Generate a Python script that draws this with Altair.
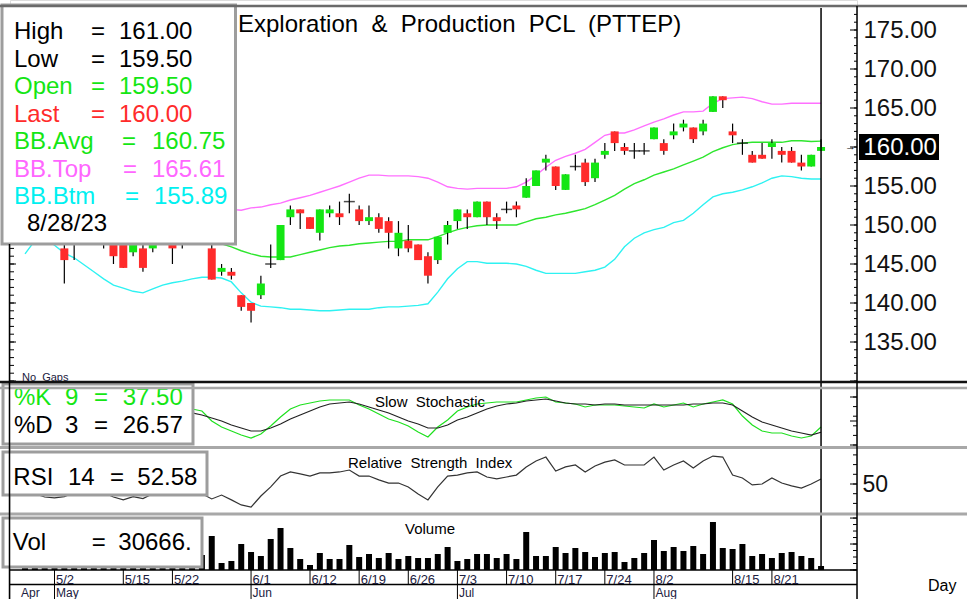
import altair as alt
import pandas as pd

# ---------------- data ----------------
dates = ["4/26","4/27","4/28","5/2","5/3","5/8","5/9","5/10","5/11","5/12","5/15","5/16","5/17","5/18","5/19",
         "5/22","5/23","5/24","5/25","5/26","5/29","5/30","5/31","6/1","6/2","6/6","6/7","6/8","6/9",
         "6/12","6/13","6/14","6/15","6/16","6/19","6/20","6/21","6/22","6/23","6/26","6/27","6/28","6/29","6/30",
         "7/3","7/4","7/5","7/6","7/7","7/10","7/11","7/12","7/13","7/14","7/17","7/18","7/19","7/20","7/21",
         "7/24","7/25","7/26","7/27","7/31","8/2","8/3","8/4","8/7","8/8","8/9","8/10","8/11",
         "8/15","8/16","8/17","8/18","8/21","8/22","8/23","8/24","8/25","8/28"]

opens = [149.5,150,150.5,149.5,147,147.5,149,149.5,149,148.5,148,146.5,147,147,149,148.5,147.5,148.5,149,147,
         144,144,141,140,141,145,145.5,151,152,151,149,151.5,151.5,153,152,150.5,151,150.5,147,148,
         147.5,146,145.5,149,150.5,151.5,151,153,151,152,152.5,153.5,155,158,157.5,154.5,157.5,158,156,159,
         162,160,159.5,159.5,161,160.5,161.5,162.5,162.5,162,164.5,166.5,162,160.5,159,159,160,159.5,159.5,158,
         157.5,159.5]
highs = [150.5,151,151,150,147.5,149.5,150,150.5,149.5,149,148.5,148.5,147.5,149,149.5,149,149,149.5,149.5,147.5,
         145,144.5,141,140,143.5,147.5,150,152.5,152,151,152,152.5,153,154,152.5,152.5,151.5,151,150.5,150,
         147.5,146.5,148.5,150.5,152,152,153,153,151.5,153,153,156,157,159,157.5,156.5,159,158.5,158.5,160.5,
         162,160.5,160.5,160.5,162.5,161,163,163.5,162.5,163.5,166.5,166.5,163,161,159.5,160.5,161,160,160,159,
         159,161]
lows = [149,149.5,149,148,142.5,145.5,148,148.5,147,145,144.5,146,144,146.5,147.5,145,147,148,148,143,
        143.5,143,139,137.5,140.5,144.5,145.5,150,149.5,149.5,148,151,150,151.5,150,150,149,147,146,146.5,
        145.5,142.5,145,147.5,149.5,149.5,151,150,149.5,151.5,151,153.5,155,157,154.5,154.5,157,155,155.5,158.5,
        159.5,159,158.5,159,161,159,161,162,160.5,161.5,164.5,165,160.5,159,158,158.5,158.5,158,158,157,
        157.5,159.5]
closes = [150,150.5,149.5,148.5,145.5,149,149.5,149,148.5,146,144.5,148,144.5,148.5,148.5,147,148.5,149,148.5,143,
          144.5,143.5,139.5,139,142.5,145,150,152,151.5,149.5,152,152,151,153,150.5,151,149.5,149,149,147,
          145.5,143.5,148.5,150,152,151,153,151,150.5,152,152,155,157,158.5,155,156.5,157.5,155.5,158,159.5,
          160.5,159.5,159.5,159.5,162.5,159.5,162,163,161,163,166.5,166,161.5,160.5,158,158.5,160.5,159,158,157.5,
          159,160]

bb_top = [153.8,153.5,153.4,153.6,154.0,154.5,155.0,155.5,156.0,156.3,156.5,156.6,156.5,156.2,155.8,155.3,154.8,
          154.2,153.6,152.9,152.3,152.0,151.9,152.2,152.3,152.6,152.8,153.2,153.5,153.8,154.2,154.6,155.0,155.5,
          156.0,156.4,156.4,156.3,156.3,156.3,156.2,156.0,155.5,154.9,154.7,154.6,154.7,154.7,154.7,154.7,154.9,
          155.5,156.4,157.4,158.3,158.8,159.2,159.7,160.6,161.5,161.8,161.8,162.2,162.7,163.2,163.6,164.1,164.5,
          164.5,164.6,165.6,166.2,166.3,166.4,166.2,165.8,165.5,165.5,165.6,165.6,165.6,165.61]
bb_avg = [150.0,150.0,149.9,149.8,149.7,149.6,149.5,149.4,149.3,149.2,149.1,149.0,148.9,148.8,148.7,148.6,148.5,
          148.4,148.2,147.95,147.6,147.2,146.7,146.3,146.0,145.9,145.9,145.9,146.2,146.5,146.8,147.1,147.3,147.4,
          147.6,147.7,147.8,147.9,147.9,148.1,148.1,148.1,148.5,149.0,149.4,149.7,149.9,150.0,150.0,150.0,150.0,
          150.4,150.8,151.0,151.3,151.5,151.8,152.1,152.6,153.2,153.8,154.6,155.3,155.8,156.4,156.8,157.2,157.7,
          158.2,158.7,159.4,159.9,160.3,160.5,160.6,160.6,160.6,160.6,160.8,160.8,160.7,160.75]
bb_btm = [146.3,148.0,148.3,147.4,146.4,145.8,144.9,144.0,143.1,142.3,141.9,141.5,141.3,141.8,142.3,142.6,142.8,
          143.1,143.3,143.3,143.2,142.7,141.3,140.1,139.6,139.5,139.4,139.2,139.2,139.1,139.0,139.0,139.1,139.2,
          139.2,139.2,139.4,139.5,139.5,139.6,139.7,139.9,141.4,143.1,144.4,145.3,145.3,145.1,145.1,145.1,145.0,
          144.7,144.2,143.8,143.8,143.8,143.8,144.0,144.2,144.6,145.6,147.2,148.3,149.0,149.4,149.7,150.3,150.6,
          151.5,152.6,153.6,154.0,154.2,154.5,154.9,155.4,156.0,156.3,156.2,156.0,155.9,155.89]

stoch_k = [60,55,48,40,30,35,45,52,50,42,35,40,38,48,58,62,70,75,70.8,50,37.5,29.2,20.8,14.6,22.9,39.6,58.3,75,
           83.3,87.5,91.7,93.8,93.8,93.8,83.3,75,64.6,54.2,47.9,39.6,27.1,16.7,37.5,52.1,70.8,79.2,85.4,87.5,
           89.6,89.6,89.6,93.8,97.9,100,89.6,87.5,85.4,79.2,83.3,83.3,83.3,81.3,79.2,77.1,85.4,79.2,83.3,87.5,
           79.2,85.4,89.6,93.8,85.4,60.4,41.7,29.2,25,25,18.8,14.6,18.8,37.5]
stoch_d = [55,56,54,48,40,35,36,42,48,48,43,39,38,42,48,56,63,66.7,62.5,56.3,50,41.7,35.4,29.2,29.2,35.4,43.8,
           54.2,62.5,70.8,79.2,85.4,87.5,89.6,85.4,79.2,72.9,66.7,58.3,50,43.8,35.4,35.4,41.7,52.1,58.3,66.7,75,
           81.3,85.4,87.5,91.7,93.8,95.8,91.7,87.5,85.4,85.4,83.3,85.4,85.4,83.3,83.3,83.3,83.3,83.3,83.3,83.3,
           85.4,85.4,87.5,87.5,83.3,70.8,58.3,47.9,41.7,35.4,29.2,25,20.8,26.57]

rsi = [47,45,43.3,42.8,43.5,45.5,47,48,45.5,43.3,41.8,43.5,42.5,45,47,46,47,46,45,42.3,44.3,41.8,39.2,38.1,
       43.8,48.5,54.1,56.2,55.2,54.1,55.7,55.7,56.2,57.2,54.1,54.1,52.1,50.5,50.5,48.5,44.8,41.8,48.5,54.1,
       54.6,55.7,56.2,53.6,52.6,53.6,54.6,58.8,61.9,63.9,56.7,58.8,59.8,56.2,59.3,61.3,62.4,59.8,59.8,59.8,
       63.9,57.2,59.8,61.9,58.2,61.9,64.4,63.9,54.6,53.1,49.5,50,53.1,50.5,49,47.9,50,52.58]

volume = [107800,138600,92400,154000,192500,123200,92400,77000,107800,138600,169400,115500,130900,100100,
          84700,146300,92400,69300,115500,261800,53900,69300,200200,138600,107800,238700,323400,169400,84700,
          38500,130900,84700,84700,192500,100100,123200,92400,130900,84700,107800,92400,92400,123200,177100,
          69300,84700,123200,123200,92400,123200,84700,292600,107800,107800,177100,130900,169400,138600,100100,
          130900,138600,61600,92400,130900,231000,146300,177100,146300,184800,123200,369600,169400,161700,
          200200,107800,123200,92400,130900,138600,107800,92400,30666]

date_ticks = ["5/2","5/15","5/22","6/1","6/12","6/19","6/26","7/3","7/10","7/17","7/24","8/2","8/15","8/21"]
month_starts = ["5/2","6/1","7/3","8/2"]
month_names = ["May","Jun","Jul","Aug"]
price_labels = [135,140,145,150,155,160,165,170,175]

# ---------------- layout helpers ----------------
PADL, PADR = 10, 110
W, H = 847, 599
FONT = "Liberation Sans"
GREEN = "#14e614"
RED = "#ff2b2b"
MAGENTA = "#ff70ff"
CYAN = "#2ef2f2"
LGREEN = "#2ee62e"
SP = " \u00a0"   # wide word gap
ONE = pd.DataFrame({"k": [0]})

xsc = alt.Scale(domain=[-1.02, 84.15], nice=False, zero=False)
X = alt.X("i:Q", scale=xsc, axis=None)
psc = alt.Scale(domain=[135, 175], range=[342, 30], nice=False, zero=False)
ssc = alt.Scale(domain=[0, 100], range=[445, 397], nice=False, zero=False)
rsc = alt.Scale(domain=[40, 60], range=[503.4, 464.6], nice=False, zero=False)
vsc = alt.Scale(domain=[0, 385000], range=[570, 520], nice=False, zero=True)


def txt(s, x, y, size=24, color="#000000", align="left", baseline="alphabetic"):
    return alt.Chart(ONE).mark_text(text=s, fontSize=size, font=FONT, color=color, align=align,
                                    baseline=baseline).encode(x=alt.value(x - PADL), y=alt.value(y))


def box(x1, y1, x2, y2, fill="white", stroke="#9d9d9d", sw=3):
    return alt.Chart(ONE).mark_rect(fill=fill, stroke=stroke, strokeWidth=sw).encode(
        x=alt.value(x1 - PADL), x2=alt.value(x2 - PADL), y=alt.value(y1), y2=alt.value(y2))


def hline(y, x1, x2, color="black", w=1):
    return alt.Chart(ONE).mark_rule(color=color, strokeWidth=w).encode(
        x=alt.value(x1 - PADL), x2=alt.value(x2 - PADL), y=alt.value(y))


def vline(x, y1, y2, color="black", w=1):
    return alt.Chart(ONE).mark_rule(color=color, strokeWidth=w).encode(
        x=alt.value(x - PADL), y=alt.value(y1), y2=alt.value(y2))


def ticks(values, scale, x1, x2, w=1):
    return alt.Chart(pd.DataFrame({"t": values})).mark_rule(color="black", strokeWidth=w).encode(
        x=alt.value(x1 - PADL), x2=alt.value(x2 - PADL), y=alt.Y("t:Q", scale=scale, axis=None))


# ---------------- tables ----------------
n = len(dates)
idx = list(range(n))
price = pd.DataFrame({"i": idx, "o": opens, "h": highs, "l": lows, "c": closes})
price["dir"] = ["up" if c > o else ("down" if c < o else "doji") for o, c in zip(opens, closes)]
bodies = price[price["dir"] != "doji"]
dojis = price[price["dir"] == "doji"]
bands = pd.DataFrame({"i": idx, "top": bb_top, "avg": bb_avg, "btm": bb_btm})
stoch = pd.DataFrame({"i": idx, "k": stoch_k, "d": stoch_d})
rsidf = pd.DataFrame({"i": idx, "r": rsi})
vol = pd.DataFrame({"i": idx, "v": volume})
dticks = pd.DataFrame({"i": [dates.index(d) for d in date_ticks], "t": date_ticks})
mticks = pd.DataFrame({"i": [dates.index(d) for d in month_starts], "t": month_names})
last = pd.DataFrame({"i": [n - 1]})

price_axis = alt.Axis(orient="right", values=price_labels, format=".2f", labelFont=FONT, labelFontSize=24,
                      labelColor={"condition": {"test": "datum.value == 160", "value": "white"}, "value": "#111111"},
                      ticks=False, domain=False, grid=False, labelPadding=6, title=None, zindex=1)
rsi_axis = alt.Axis(orient="right", values=[50], labelFont=FONT, labelFontSize=23, labelColor="#111111",
                    ticks=False, domain=False, grid=False, labelPadding=5, title=None, zindex=1)

layers = []
# title (partly hidden by legend box, as in the original)
layers.append(txt(SP.join(["Exploration", "&", "Production", "PCL", "(PTTEP)"]), 238, 32, size=24))

# Bollinger bands
for col, colr in [("top", MAGENTA), ("avg", LGREEN), ("btm", CYAN)]:
    layers.append(alt.Chart(bands).mark_line(color=colr, strokeWidth=1.4).encode(
        x=X, y=alt.Y(f"{col}:Q", scale=psc, axis=None)))

# candles
layers.append(alt.Chart(price).mark_rule(color="black", strokeWidth=1.2).encode(
    x=X, y=alt.Y("l:Q", scale=psc, axis=None), y2="h:Q"))
layers.append(alt.Chart(bodies).mark_bar(size=8).encode(
    x=X, y=alt.Y("o:Q", scale=psc, axis=price_axis), y2="c:Q",
    color=alt.Color("dir:N", scale=alt.Scale(domain=["up", "down"], range=[GREEN, RED]), legend=None)))
layers.append(alt.Chart(dojis).mark_tick(orient="horizontal", size=11, thickness=1.5, color="black").encode(
    x=X, y=alt.Y("c:Q", scale=psc, axis=None)))

# stochastic
layers.append(alt.Chart(stoch).mark_line(color="#1ee01e", strokeWidth=1.2).encode(
    x=X, y=alt.Y("k:Q", scale=ssc, axis=None)))
layers.append(alt.Chart(stoch).mark_line(color="#222222", strokeWidth=1.2).encode(
    x=X, y=alt.Y("d:Q", scale=ssc, axis=None)))

# RSI
layers.append(alt.Chart(rsidf).mark_line(color="#333333", strokeWidth=1.2).encode(
    x=X, y=alt.Y("r:Q", scale=rsc, axis=rsi_axis)))

# volume
layers.append(alt.Chart(vol).mark_bar(size=6, color="black").encode(
    x=X, y=alt.Y("v:Q", scale=vsc, axis=None)))

# current-day line
layers.append(alt.Chart(last).mark_rule(color="black", strokeWidth=1.5).encode(
    x=X, y=alt.value(8), y2=alt.value(570)))

# axis ticks (inward)
layers.append(ticks(list(range(130, 178)), psc, 854, 857))
layers.append(ticks(list(range(130, 178, 5)), psc, 850, 857))
layers.append(ticks(list(range(130, 178)), psc, 10, 14))
layers.append(ticks(list(range(130, 178, 5)), psc, 10, 16))
layers.append(ticks([0, 20, 40, 60, 80, 100], ssc, 853, 857))
layers.append(ticks([0, 50, 100], ssc, 850, 857))
layers.append(ticks([40, 45, 50, 55, 60, 65], rsc, 853, 857))
layers.append(ticks([50], rsc, 850, 857))
layers.append(ticks([0, 50000, 100000, 150000, 200000, 250000, 300000, 350000, 400000], vsc, 853, 857))
layers.append(ticks([0, 200000, 400000], vsc, 850, 857))

# panel titles
layers.append(txt("No" + SP + "Gaps", 22, 381, size=11, color="#202040"))
layers.append(txt("Slow" + SP + "Stochastic", 375, 407, size=15))
layers.append(txt(SP.join(["Relative", "Strength", "Index"]), 348, 468, size=15))
layers.append(txt("Volume", 405, 534, size=15))

# price legend box
layers.append(box(2, 5, 235.5, 244))
rows = [
    ("High", f"{highs[-1]:.2f}", "#000000", 91, 119, 39.3),
    ("Low", f"{lows[-1]:.2f}", "#000000", 91, 119, 66.7),
    ("Open", f"{opens[-1]:.2f}", GREEN, 91, 119, 94),
    ("Last", f"{closes[-1]:.2f}", RED, 91, 119, 121.5),
    ("BB.Avg", f"{bb_avg[-1]:.2f}", GREEN, 122, 152, 149),
    ("BB.Top", f"{bb_top[-1]:.2f}", "#ff66ff", 123, 152, 176.5),
    ("BB.Btm", f"{bb_btm[-1]:.2f}", "#00f0f0", 125, 154, 204),
]
for lab, val, colr, xeq, xval, yb in rows:
    layers.append(txt(lab, 14, yb, color=colr))
    layers.append(txt("=", xeq, yb, color=colr))
    layers.append(txt(val, xval, yb, color=colr))
layers.append(txt(dates[-1] + "/23", 27, 231))

# stochastic box
layers.append(box(3, 384, 193, 444))
for lab, per, val, colr, yb in [("%K", "9", f"{stoch_k[-1]:.2f}", GREEN, 405),
                                ("%D", "3", f"{stoch_d[-1]:.2f}", "#000000", 432.7)]:
    layers.append(txt(lab, 14, yb, color=colr))
    layers.append(txt(per, 65, yb, color=colr))
    layers.append(txt("=", 94, yb, color=colr))
    layers.append(txt(val, 122.7, yb, color=colr))

# RSI box
layers.append(box(3, 452, 207, 495))
layers.append(txt("RSI", 13.3, 485))
layers.append(txt("14", 68, 485))
layers.append(txt("=", 110, 485))
layers.append(txt(f"{rsi[-1]:.2f}", 137.3, 485))

# volume box
layers.append(box(3, 518, 202, 567))
layers.append(txt("Vol", 12.7, 550))
layers.append(txt("=", 91.7, 550))
layers.append(txt(f"{volume[-1]}.", 118.3, 550))

# separators & frame
layers.append(hline(6, 0, 967, "#6a6a6a", 2.5))
layers.append(hline(382, 0, 967, "#111111", 2.5))
layers.append(hline(388, 0, 967, "#a8a8a8", 2.5))
layers.append(hline(447.5, 0, 967, "#a8a8a8", 3))
layers.append(hline(514, 0, 967, "#a8a8a8", 3))
layers.append(hline(570, 9, 857, "black", 1.5))
layers.append(hline(584.5, 9, 857, "black", 1.5))
layers.append(vline(857, 6, 599, "black", 1.5))
layers.append(vline(9.5, 244, 599, "black", 1.5))

# date axis
layers.append(alt.Chart(dticks).mark_rule(color="black", strokeWidth=1).encode(
    x=X, y=alt.value(570), y2=alt.value(584.5)))
layers.append(alt.Chart(dticks).mark_text(align="left", dx=1.5, baseline="alphabetic", fontSize=13,
                                          font=FONT, color="#202040").encode(
    x=X, y=alt.value(583.5), text="t:N"))
layers.append(alt.Chart(mticks).mark_rule(color="black", strokeWidth=1).encode(
    x=X, y=alt.value(584.5), y2=alt.value(599)))
layers.append(alt.Chart(mticks).mark_text(align="left", dx=1.5, baseline="alphabetic", fontSize=12,
                                          font=FONT, color="#202040").encode(
    x=X, y=alt.value(597), text="t:N"))
layers.append(txt("Apr", 21, 597, size=12, color="#202040"))
layers.append(txt("Day", 928, 591, size=16))

# current price highlight
layers.append(box(859, 134, 939, 160, fill="black", stroke="black", sw=0))
layers.append(txt("\u2192", 845, 147, size=11, baseline="middle"))

chart = alt.layer(*layers).resolve_scale(y="independent").properties(
    width=W, height=H, autosize=alt.AutoSizeParams(type="none"),
    padding={"left": PADL, "right": PADR, "top": 0, "bottom": 0},
).configure_view(strokeWidth=0).configure(background="white")

chart.save("out.html", embed_options={"renderer": "svg", "actions": False})
